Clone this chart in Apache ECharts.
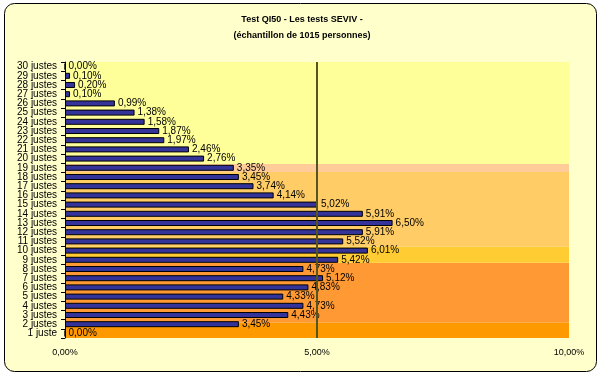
<!DOCTYPE html>
<html>
<head>
<meta charset="utf-8">
<script src="https://cdn.jsdelivr.net/npm/echarts@6/dist/echarts.min.js"></script>
<style>
html,body{margin:0;padding:0;background:#ffffff;}
#c{width:604px;height:379px;}
</style>
</head>
<body>
<div id="c"></div>
<script>
// Categories, bottom to top
var categories = ['1 juste','2 justes','3 justes','4 justes','5 justes','6 justes','7 justes','8 justes','9 justes','10 justes',
  '11 justes','12 justes','13 justes','14 justes','15 justes','16 justes','17 justes','18 justes','19 justes','20 justes',
  '21 justes','22 justes','23 justes','24 justes','25 justes','26 justes','27 justes','28 justes','29 justes','30 justes'];
// Percentages (same order)
var percents = [0.00,3.45,4.43,4.73,4.33,4.83,5.12,4.73,5.42,6.01,
  5.52,5.91,6.50,5.91,5.02,4.14,3.74,3.45,3.35,2.76,
  2.46,1.97,1.87,1.58,1.38,0.99,0.10,0.20,0.10,0.00];
// Background bands in row units (from bottom of plot), with colours
var bandStarts = [0, 1.66, 8.18, 9.92, 18.04, 18.91];
var bandEnds   = [1.66, 8.18, 9.92, 18.04, 18.91, 30];
var bandColors = ['#FF9900','#FF9933','#FFCC33','#FFCC66','#FFCC99','#FFFF99'];
var xTicks = [0, 5, 10];
var refLine = 5;

function fmt(v){ return v.toFixed(2).replace('.', ',') + '%'; }

var bands = bandStarts.map(function(s, i){
  return [{yAxis: s, xAxis: 0, itemStyle:{color: bandColors[i]}}, {yAxis: bandEnds[i], xAxis: 10}];
});

var chart = echarts.init(document.getElementById('c'), null, {renderer:'canvas'});
chart.setOption({
  animation:false,
  backgroundColor:'#ffffff',
  textStyle:{fontFamily:'Liberation Sans, Arial, sans-serif'},
  graphic:[{
    type:'rect', z:-10, silent:true,
    shape:{x:4.5, y:3.5, width:592, height:368, r:10},
    style:{fill:'#FFFFCC', stroke:'#000000', lineWidth:1}
  }],
  title:{
    text:'Test QI50 - Les tests SEVIV -\n(échantillon de 1015 personnes)',
    left:'center', top:7,
    textStyle:{fontSize:9, fontWeight:'bold', color:'#000', lineHeight:16, fontFamily:'Liberation Sans, Arial, sans-serif'}
  },
  grid:{left:65, top:62, right:35, bottom:41, containLabel:false},
  xAxis:{
    type:'value', min:0, max:10, interval:5,
    axisLine:{show:false}, axisTick:{show:false},
    splitLine:{show:false},
    axisLabel:{formatter:function(v){return fmt(v);}, fontSize:9, color:'#000', margin:10,
      fontFamily:'Liberation Sans, Arial, sans-serif'}
  },
  yAxis:[{
    type:'category', data:categories,
    axisLine:{show:true, lineStyle:{color:'#000', width:1}},
    axisTick:{show:true, length:4, inside:false, lineStyle:{color:'#000'}},
    axisLabel:{fontSize:10, color:'#000', margin:8, interval:0,
      fontFamily:'Liberation Sans, Arial, sans-serif'},
    splitLine:{show:false}, z:5
  },{
    type:'value', min:0, max:30, show:false
  }],
  series:[{
    type:'line', yAxisIndex:1, data:[[0,0]], symbol:'none', silent:true, z:1,
    lineStyle:{opacity:0},
    markArea:{silent:true, data:bands},
    markLine:{silent:true, symbol:'none', label:{show:false},
      lineStyle:{color:'#555520', width:2, type:'solid'},
      data:[{xAxis:refLine}]}
  },{
    type:'bar', yAxisIndex:0, data:percents, barWidth:6, z:3,
    itemStyle:{color:'#333399', borderColor:'#000000', borderWidth:1},
    label:{show:true, position:'right', distance:3, formatter:function(p){return fmt(p.value);},
      fontSize:10, color:'#000', fontFamily:'Liberation Sans, Arial, sans-serif'}
  }]
});
</script>
</body>
</html>
